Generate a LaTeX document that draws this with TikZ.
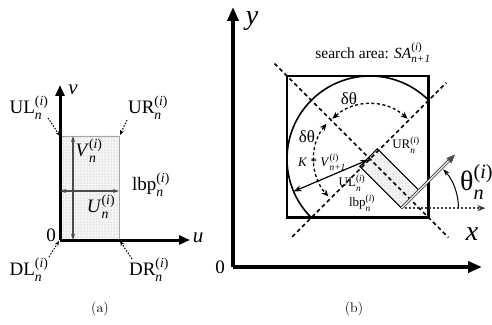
\documentclass[tikz,border=0pt]{standalone}
\usepackage{amsmath}
\usepackage{fontspec}
\newfontfamily\tms{Liberation Serif}
\usetikzlibrary{arrows.meta,calc,patterns}
\makeatletter
\newcommand\scr[1]{\hbox{\fontsize{\fpeval{0.72*\f@size}}{1}\selectfont #1}}
\newcommand\scrsup[1]{\raisebox{0.09em}{\scr{#1}}}
\newcommand\scrsub[1]{\raisebox{-0.09em}{\scr{#1}}}
\newcommand\subsup[1]{$_{\scrsub{\itshape #1}}^{\scrsup{(\textit{i})}}$}
\makeatother
\begin{document}
\begin{tikzpicture}[x=1pt,y=1pt,
  laba/.style={font={\tms\fontsize{19}{22}\selectfont}, inner sep=0pt},
  labb/.style={font={\tms\fontsize{13}{15}\selectfont}, inner sep=0pt},
  axisa/.style={line width=3pt, -{Triangle[length=11pt,width=9pt]}},
  axisb/.style={line width=3.8pt, -{Triangle[length=14pt,width=11pt]}},
  ptr/.style={line width=1pt, dash pattern=on 1.5pt off 1.5pt, -{Stealth[length=5pt,width=4pt]}},
  garrow/.style={line width=1.2pt, gray!60!black, {Stealth[length=6pt,width=4pt]}-{Stealth[length=6pt,width=4pt]}},
  dline/.style={line width=1.5pt, dash pattern=on 4pt off 3pt},
  darc/.style={line width=1.3pt, dash pattern=on 3pt off 2.5pt, {Stealth[length=7pt,width=6pt]}-{Stealth[length=7pt,width=6pt]}},
  dots/.style={pattern=dots, pattern color=gray!70},
]
\useasboundingbox (0,0) rectangle (492,324);
\fill[white] (0,0) rectangle (492,324);

% ---------------- (a) ----------------
\coordinate (A0) at (60,84);
\coordinate (Av) at (60,239);
\coordinate (Au) at (190,84);
\coordinate (Atl) at (60,188);
\coordinate (Atr) at (119,188);
\coordinate (Abr) at (119,84);
\fill[gray!8] (A0) rectangle (Atr);
\fill[dots] (A0) rectangle (Atr);
\draw[gray!70, line width=0.8pt] (Atl) -- (Atr) -- (Abr);
\draw[axisa] (A0) -- (Av);
\draw[axisa] (A0) -- (Au);
\coordinate (Vt) at (73,188);
\coordinate (Vb) at (73,84);
\coordinate (Ul) at (60,133);
\coordinate (Ur) at (119,133);
\draw[garrow] (Vt) -- (Vb);
\draw[garrow] (Ul) -- (Ur);

\node[laba] (lV) at (89,173) {\textit{V}\subsup{n}};
\node[laba] (lU) at (101,117) {\textit{U}\subsup{n}};
\node[laba] (lbpa) at (151,139) {lbp\subsup{n}};
\node[laba] (lUL) at (29,216) {UL\subsup{n}};
\node[laba] (lUR) at (148,216) {UR\subsup{n}};
\node[laba] (lDL) at (29,54) {DL\subsup{n}};
\node[laba] (lDR) at (149,54) {DR\subsup{n}};
\node[laba] (zeroa) at (51,89) {0};
\node[laba, font={\tms\itshape\fontsize{21}{22}\selectfont}] (lv) at (73,234) {v};
\node[laba, font={\tms\itshape\fontsize{21}{22}\selectfont}] (lu) at (198,86) {u};

\coordinate (pUL) at (48,206);
\coordinate (pUR) at (127,204);
\coordinate (pDL) at (49,67);
\coordinate (pDR) at (132,65);
\draw[ptr] (pUL) -- (Atl);
\draw[ptr] (pUR) -- ($(Atr)+(1,1)$);
\draw[ptr] (pDL) -- ($(A0)+(-1,-1)$);
\draw[ptr] (pDR) -- ($(Abr)+(1,-1)$);

\node[font=\fontsize{14}{16}\selectfont, inner sep=0pt] (capa) at (100,15) {(a)};

% ---------------- (b) ----------------
\coordinate (B0) at (233,57);
\coordinate (By) at (233,317);
\coordinate (Bx) at (482,57);
\draw[axisb] (B0) -- (By);
\draw[axisb] (B0) -- (Bx);
\node[inner sep=0pt, font={\tms\itshape\fontsize{28}{30}\selectfont}] (ly) at (252,303) {y};
\node[inner sep=0pt, font={\tms\itshape\fontsize{28}{30}\selectfont}] (lx) at (472,90) {x};
\node[laba] (zerob) at (220,57) {0};
\node[font=\fontsize{14}{16}\selectfont, inner sep=0pt] (capb) at (354,15) {(b)};

\coordinate (O) at (370,165);
% search square
\draw[line width=2.5pt] ($(O)+(-83,-58.7)$) rectangle ($(O)+(58.7,83)$);
% circle arc
\draw[line width=1.6pt] ($(O)+(45:83)$) arc[start angle=45, end angle=225, radius=83];

% rectangle (rotated lbp box)
\coordinate (M) at ($(O)+(-45:57)$);
\coordinate (DL) at ($(M)+(225:12.5)$);
\coordinate (DR) at ($(M)+(45:12.5)$);
\coordinate (UL) at ($(DL)+(135:59)$);
\coordinate (UR) at ($(DR)+(135:59)$);
\fill[gray!8] (DL) -- (DR) -- (UR) -- (UL) -- cycle;
\fill[dots] (DL) -- (DR) -- (UR) -- (UL) -- cycle;

% dashed diagonals
\coordinate (d1a) at ($(O)+(135:135)$);
\coordinate (d1b) at ($(O)+(-45:111)$);
\coordinate (d2a) at ($(O)+(225:110)$);
\coordinate (d2b) at ($(O)+(45:108)$);
\draw[dline] (d1a) -- (d1b);
\draw[dline] (d2a) -- (d2b);

\draw[line width=1pt] (DL) -- (DR) -- (UR) -- (UL) -- cycle;

% delta theta arcs
\draw[darc] ($(O)+(47:55)$) arc[start angle=47, end angle=133, radius=55];
\draw[darc] ($(O)+(141:56)$) arc[start angle=141, end angle=222, radius=56];

% K*V arrow
\coordinate (Kc) at ($(O)+(203:83)$);
\coordinate (Ke) at ($(O)+(203:2)$);
\draw[line width=1.2pt, {Stealth[length=8pt,width=6pt]}-{Stealth[length=8pt,width=6pt]}] (Kc) -- (Ke);

% theta
\coordinate (Th) at ($(DL)+(45:76)$);
\coordinate (Hx) at ($(DL)+(84,0)$);
\draw[gray!45!black, line width=1.6pt, dash pattern=on 2pt off 2pt, -{Stealth[length=8pt,width=6pt]}] (DL) -- (Hx);
\draw[gray!60!black, line width=0.9pt, double=white, double distance=1.2pt, -{Triangle[length=9pt,width=7pt]}] (DL) -- (Th);
\draw[line width=1pt, -{Stealth[length=7pt,width=5pt]}] ($(DL)+(0:57)$) arc[start angle=0, end angle=43, radius=57];
\node[anchor=west, inner sep=0pt, font={\tms\fontsize{28}{30}\selectfont}] (lth) at (460,142) {θ\subsup{n}};

% labels (b)
\node[inner sep=0pt, font={\tms\fontsize{15.5}{18}\selectfont}] (sa) at (373,271) {search area: \textit{SA}$_{\scrsub{\itshape n+1}}^{\scrsup{(\textit{i})}}$};
\node[inner sep=0pt, font={\tms\fontsize{17}{20}\selectfont}] (dt1) at (349,225) {δθ};
\node[inner sep=0pt, font={\tms\fontsize{17}{20}\selectfont}] (dt2) at (307,187) {δθ};
\node[labb] (kv) at (322,162) {\textit{K} * \textit{V}$_{\scrsub{\itshape n+1}}^{\scrsup{(\textit{i})}}$};
\node[labb] (lURb) at (406,179) {UR\subsup{n}};
\node[labb] (lULb) at (352,141) {UL\subsup{n}};
\node[labb] (lbpb) at (362,121) {lbp\subsup{n}};
\end{tikzpicture}
\end{document}
